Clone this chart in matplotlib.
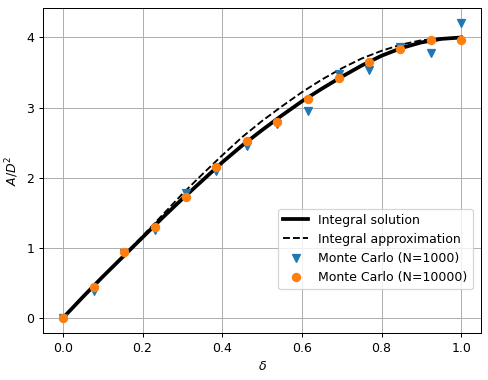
import numpy as np
import matplotlib
matplotlib.use("Agg")
import matplotlib.pyplot as plt

# Integral solution curve
sol_x = [0.00, 0.05, 0.10, 0.15, 0.20, 0.25, 0.30, 0.35, 0.40, 0.45, 0.50,
         0.55, 0.60, 0.65, 0.70, 0.75, 0.80, 0.85, 0.90, 0.95, 1.00]
sol_y = [0.00, 0.30, 0.59, 0.87, 1.15, 1.43, 1.70, 1.96, 2.22, 2.46, 2.68,
         2.89, 3.09, 3.27, 3.44, 3.60, 3.74, 3.85, 3.93, 3.98, 4.00]

# Integral approximation curve
apx_x = [0.15, 0.20, 0.25, 0.30, 0.35, 0.40, 0.45, 0.50, 0.55, 0.60,
         0.65, 0.70, 0.75, 0.80, 0.85, 0.90, 0.95, 1.00]
apx_y = [0.88, 1.17, 1.47, 1.77, 2.05, 2.32, 2.58, 2.81, 3.02, 3.22,
         3.40, 3.56, 3.70, 3.81, 3.90, 3.96, 3.99, 4.00]

# Monte Carlo samples
mc_x = [0.000, 0.077, 0.154, 0.231, 0.308, 0.385, 0.462,
        0.538, 0.615, 0.692, 0.769, 0.846, 0.923, 1.000]
mc1000 = [0.00, 0.38, 0.93, 1.25, 1.78, 2.09, 2.45,
          2.76, 2.95, 3.48, 3.53, 3.87, 3.78, 4.21]
mc10000 = [0.00, 0.44, 0.94, 1.30, 1.72, 2.16, 2.52,
           2.80, 3.13, 3.42, 3.65, 3.83, 3.97, 3.97]

DPI = 90
fig = plt.figure(figsize=(488 / DPI, 380 / DPI), dpi=DPI)
ax = fig.add_axes([0.088, 0.124, 0.898, 0.855])

ax.plot(sol_x, sol_y, color="black", lw=3, label="Integral solution")
ax.plot(apx_x, apx_y, color="black", lw=1.5, ls="--", label="Integral approximation")
ax.plot(mc_x, mc1000, ls="none", marker="v", ms=6.5, color="C0", label="Monte Carlo (N=1000)")
ax.plot(mc_x, mc10000, ls="none", marker="o", ms=6.5, color="C1", label="Monte Carlo (N=10000)")

ax.grid(True)
ax.set_xlabel(r"$\delta$")
ax.set_ylabel(r"$A/D^2$")
ax.set_xticks([0.0, 0.2, 0.4, 0.6, 0.8, 1.0])
ax.set_yticks([0, 1, 2, 3, 4])
ax.legend(loc="lower right", bbox_to_anchor=(0.995, 0.115))

fig.savefig("out.png", dpi=DPI)
